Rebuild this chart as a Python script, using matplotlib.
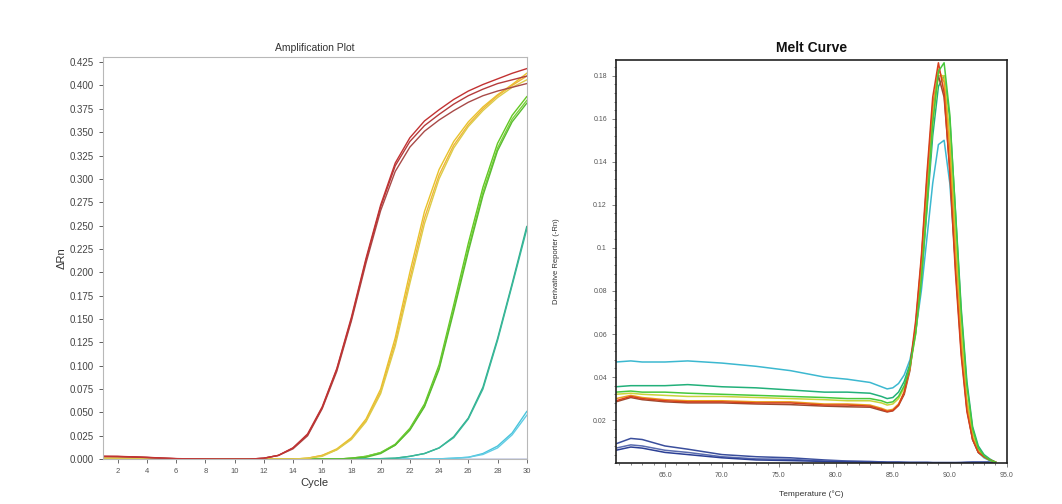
import matplotlib
matplotlib.use('Agg')
import matplotlib.pyplot as plt
from matplotlib.ticker import AutoMinorLocator, FormatStrFormatter, FixedLocator
import numpy as np

plt.rcParams['font.family'] = ['Liberation Sans', 'DejaVu Sans']

# ---------------- amplification data (delta Rn per cycle) ----------------
cycles = list(range(1, 31))

amp_red1 = [0.003, 0.003, 0.0025, 0.002, 0.0012, 0.0006, 0.0003, 0.0001, 0.0, 0.0,
            0.0, 0.001, 0.004, 0.012, 0.027, 0.056, 0.097, 0.152, 0.215, 0.272,
            0.317, 0.344, 0.362, 0.374, 0.385, 0.394, 0.401, 0.407, 0.413, 0.418]
amp_red2 = [0.003, 0.0028, 0.0024, 0.0018, 0.0011, 0.0005, 0.0002, 0.0001, 0.0, 0.0,
            0.0, 0.001, 0.004, 0.012, 0.026, 0.055, 0.096, 0.150, 0.213, 0.270,
            0.314, 0.340, 0.357, 0.369, 0.380, 0.389, 0.396, 0.402, 0.406, 0.410]
amp_red3 = [0.0028, 0.0027, 0.0023, 0.0017, 0.001, 0.0005, 0.0002, 0.0, 0.0, 0.0,
            0.0, 0.001, 0.004, 0.011, 0.025, 0.054, 0.094, 0.148, 0.210, 0.266,
            0.308, 0.334, 0.351, 0.363, 0.373, 0.382, 0.389, 0.394, 0.398, 0.402]

amp_yel1 = [0.001, 0.001, 0.001, 0.0008, 0.0006, 0.0004, 0.0002, 0.0001, 0.0, 0.0,
            0.0, 0.0, 0.0, 0.0, 0.001, 0.004, 0.011, 0.023, 0.043, 0.075,
            0.130, 0.200, 0.265, 0.310, 0.340, 0.361, 0.377, 0.390, 0.401, 0.413]
amp_yel2 = [0.001, 0.001, 0.0009, 0.0007, 0.0005, 0.0003, 0.0002, 0.0001, 0.0, 0.0,
            0.0, 0.0, 0.0, 0.0, 0.001, 0.004, 0.010, 0.022, 0.041, 0.072,
            0.125, 0.193, 0.258, 0.304, 0.336, 0.358, 0.375, 0.389, 0.400, 0.410]
amp_yel3 = [0.0008, 0.0008, 0.0008, 0.0006, 0.0005, 0.0003, 0.0001, 0.0, 0.0, 0.0,
            0.0, 0.0, 0.0, 0.0, 0.001, 0.003, 0.010, 0.021, 0.040, 0.070,
            0.121, 0.188, 0.252, 0.300, 0.333, 0.356, 0.373, 0.387, 0.398, 0.406]

amp_grn1 = [0.0005, 0.0005, 0.0005, 0.0004, 0.0004, 0.0003, 0.0002, 0.0001, 0.0, 0.0,
            0.0, 0.0, 0.0, 0.0, 0.0, 0.0, 0.0, 0.001, 0.003, 0.007,
            0.016, 0.033, 0.059, 0.101, 0.165, 0.231, 0.291, 0.338, 0.368, 0.388]
amp_grn2 = [0.0005, 0.0005, 0.0004, 0.0004, 0.0003, 0.0002, 0.0002, 0.0001, 0.0, 0.0,
            0.0, 0.0, 0.0, 0.0, 0.0, 0.0, 0.0, 0.001, 0.003, 0.007,
            0.015, 0.032, 0.057, 0.098, 0.161, 0.226, 0.286, 0.333, 0.364, 0.384]
amp_grn3 = [0.0004, 0.0004, 0.0004, 0.0003, 0.0003, 0.0002, 0.0001, 0.0, 0.0, 0.0,
            0.0, 0.0, 0.0, 0.0, 0.0, 0.0, 0.0, 0.001, 0.002, 0.006,
            0.015, 0.031, 0.056, 0.096, 0.158, 0.222, 0.282, 0.330, 0.361, 0.381]

amp_teal1 = [0.0004, 0.0004, 0.0004, 0.0003, 0.0003, 0.0002, 0.0002, 0.0001, 0.0001, 0.0,
             0.0, 0.0, 0.0, 0.0, 0.0, 0.0, 0.0, 0.0, 0.0, 0.0005,
             0.001, 0.003, 0.006, 0.012, 0.024, 0.044, 0.077, 0.129, 0.188, 0.249]
amp_teal2 = [0.0004, 0.0004, 0.0003, 0.0003, 0.0002, 0.0002, 0.0001, 0.0001, 0.0, 0.0,
             0.0, 0.0, 0.0, 0.0, 0.0, 0.0, 0.0, 0.0, 0.0, 0.0005,
             0.001, 0.003, 0.006, 0.012, 0.023, 0.043, 0.075, 0.127, 0.186, 0.246]

amp_cyan1 = [0.0003, 0.0003, 0.0003, 0.0002, 0.0002, 0.0002, 0.0001, 0.0001, 0.0, 0.0,
             0.0, 0.0, 0.0, 0.0, 0.0, 0.0, 0.0, 0.0, 0.0, 0.0,
             0.0, 0.0, 0.0, 0.0003, 0.001, 0.002, 0.006, 0.014, 0.028, 0.051]
amp_cyan2 = [0.0003, 0.0003, 0.0002, 0.0002, 0.0002, 0.0001, 0.0001, 0.0, 0.0, 0.0,
             0.0, 0.0, 0.0, 0.0, 0.0, 0.0, 0.0, 0.0, 0.0, 0.0,
             0.0, 0.0, 0.0, 0.0003, 0.001, 0.002, 0.005, 0.012, 0.026, 0.047]

amp_blue = [0.0] * 30

amp_series = [
    (amp_blue, '#2a3f9a'),
    (amp_cyan1, '#48c4dc'), (amp_cyan2, '#62cce4'),
    (amp_teal1, '#2fae8e'), (amp_teal2, '#3ab89a'),
    (amp_grn1, '#62c822'), (amp_grn2, '#7cd03c'), (amp_grn3, '#58bc30'),
    (amp_yel1, '#e8c32a'), (amp_yel2, '#f0b438'), (amp_yel3, '#dccc48'),
    (amp_red3, '#a84a48'), (amp_red2, '#b43c3c'), (amp_red1, '#c23232'),
]

# ---------------- melt curve data (derivative reporter) ----------------
temps = [60.7, 62, 63, 65, 67, 70, 73, 76, 79, 81, 83, 84, 84.5, 85, 85.5, 86,
         86.5, 87, 87.5, 88, 88.5, 89, 89.5, 90, 90.5, 91, 91.5, 92, 92.5, 93, 93.5, 94]

melt_red = [0.029, 0.031, 0.030, 0.029, 0.0285, 0.0285, 0.028, 0.028, 0.027, 0.027,
            0.0265, 0.025, 0.024, 0.0245, 0.027, 0.033, 0.045, 0.066, 0.096, 0.135,
            0.170, 0.186, 0.172, 0.135, 0.088, 0.050, 0.024, 0.011, 0.005, 0.003, 0.0015, 0.0005]
melt_red2 = [0.0285, 0.0305, 0.0295, 0.0285, 0.028, 0.028, 0.0275, 0.0272, 0.0265, 0.0262,
             0.026, 0.0245, 0.0238, 0.0243, 0.0268, 0.032, 0.043, 0.064, 0.094, 0.132,
             0.166, 0.180, 0.170, 0.137, 0.091, 0.052, 0.025, 0.011, 0.005, 0.003, 0.0015, 0.0005]
melt_orange = [0.030, 0.0315, 0.0305, 0.0295, 0.029, 0.029, 0.0285, 0.0285, 0.0275, 0.0275,
               0.027, 0.0255, 0.0245, 0.025, 0.0275, 0.033, 0.044, 0.063, 0.092, 0.130,
               0.165, 0.183, 0.177, 0.145, 0.098, 0.056, 0.027, 0.012, 0.0055, 0.003, 0.0015, 0.0005]
melt_yellow = [0.032, 0.0325, 0.032, 0.0315, 0.031, 0.031, 0.0305, 0.030, 0.0295, 0.029,
               0.029, 0.028, 0.027, 0.0275, 0.030, 0.035, 0.044, 0.060, 0.086, 0.122,
               0.158, 0.180, 0.180, 0.152, 0.106, 0.062, 0.030, 0.014, 0.006, 0.003, 0.0015, 0.0005]
melt_green = [0.033, 0.0335, 0.033, 0.033, 0.0325, 0.032, 0.0315, 0.031, 0.0305, 0.030,
              0.030, 0.029, 0.028, 0.0285, 0.031, 0.036, 0.045, 0.060, 0.085, 0.120,
              0.158, 0.182, 0.186, 0.162, 0.116, 0.070, 0.036, 0.016, 0.007, 0.0035, 0.0015, 0.0005]
melt_teal = [0.0355, 0.036, 0.036, 0.036, 0.0365, 0.0355, 0.035, 0.034, 0.033, 0.033,
             0.0325, 0.031, 0.030, 0.0305, 0.033, 0.038, 0.046, 0.061, 0.085, 0.118,
             0.152, 0.175, 0.180, 0.160, 0.117, 0.072, 0.038, 0.017, 0.008, 0.004, 0.002, 0.0005]
melt_cyan = [0.047, 0.0475, 0.047, 0.047, 0.0475, 0.0465, 0.045, 0.043, 0.040, 0.039,
             0.0375, 0.0355, 0.0345, 0.035, 0.037, 0.041, 0.048, 0.061, 0.080, 0.105,
             0.130, 0.148, 0.150, 0.130, 0.093, 0.055, 0.026, 0.011, 0.005, 0.0025, 0.0012, 0.0005]
melt_blue1 = [0.009, 0.0115, 0.011, 0.008, 0.0065, 0.004, 0.003, 0.0025, 0.0015, 0.001,
              0.0008, 0.0006, 0.0005, 0.0005, 0.0005, 0.0004, 0.0004, 0.0004, 0.0004, 0.0004,
              0.0003, 0.0003, 0.0003, 0.0003, 0.0003, 0.0003, 0.0004, 0.0005, 0.0005, 0.0005, 0.0005, 0.0005]
melt_blue2 = [0.007, 0.0085, 0.008, 0.006, 0.005, 0.003, 0.002, 0.0018, 0.001, 0.0008,
              0.0006, 0.0005, 0.0004, 0.0004, 0.0004, 0.0003, 0.0003, 0.0003, 0.0003, 0.0003,
              0.0002, 0.0002, 0.0002, 0.0002, 0.0002, 0.0003, 0.0003, 0.0004, 0.0004, 0.0004, 0.0004, 0.0004]
melt_blue3 = [0.006, 0.0075, 0.007, 0.005, 0.004, 0.0025, 0.0015, 0.0012, 0.0008, 0.0006,
              0.0005, 0.0004, 0.0003, 0.0003, 0.0003, 0.0003, 0.0002, 0.0002, 0.0002, 0.0002,
              0.0002, 0.0002, 0.0002, 0.0002, 0.0002, 0.0002, 0.0003, 0.0003, 0.0003, 0.0003, 0.0003, 0.0003]

melt_series = [
    (melt_blue1, '#3a4e9c'), (melt_blue2, '#5a6cb0'), (melt_blue3, '#2b3f95'),
    (melt_cyan, '#3cb8d0'),
    (melt_teal, '#22b07a'),
    (melt_yellow, '#c8d43a'),
    (melt_red2, '#9c4a30'),
    (melt_orange, '#e8a020'),
    (melt_red, '#d8401c'),
    (melt_green, '#48c83c'),
]

fig = plt.figure(figsize=(10.62, 5.04), dpi=100)

# ---------------- left: amplification plot ----------------
ax1 = fig.add_axes([0.097, 0.089, 0.399, 0.798])
for vals, col in amp_series:
    ax1.plot(cycles, vals, color=col, lw=1.0)
ax1.set_xlim(1, 30)
ax1.set_ylim(0, 0.4305)
ax1.set_xticks(range(2, 31, 2))
ax1.yaxis.set_major_locator(FixedLocator(np.arange(0, 0.426, 0.025)))
ax1.yaxis.set_major_formatter(FormatStrFormatter('%.3f'))
ax1.tick_params(axis='y', labelsize=7, colors='#444444', length=3, width=0.6)
ax1.tick_params(axis='x', labelsize=5.5, colors='#555555', length=3, width=0.6)
for s in ax1.spines.values():
    s.set_color('#b8b8b8')
    s.set_linewidth(0.8)
ax1.set_title('Amplification Plot', fontsize=7.5, color='#333333', pad=4)
ax1.set_xlabel('Cycle', fontsize=8, color='#333333', labelpad=2)
ax1.set_ylabel('ΔRn', fontsize=8, color='#333333', labelpad=2)

# ---------------- right: melt curve ----------------
ax2 = fig.add_axes([0.580, 0.081, 0.368, 0.800])
for vals, col in melt_series:
    ax2.plot(temps, vals, color=col, lw=1.1)
ax2.set_xlim(60.7, 95)
ax2.set_ylim(0, 0.1873)
ax2.set_xticks([65, 70, 75, 80, 85, 90, 95])
ax2.set_xticklabels(['65.0', '70.0', '75.0', '80.0', '85.0', '90.0', '95.0'])
ax2.set_yticks([0.02, 0.04, 0.06, 0.08, 0.1, 0.12, 0.14, 0.16, 0.18])
ax2.set_yticklabels(['0.02', '0.04', '0.06', '0.08', '0.1', '0.12', '0.14', '0.16', '0.18'])
ax2.xaxis.set_minor_locator(AutoMinorLocator(5))
ax2.yaxis.set_minor_locator(AutoMinorLocator(5))
ax2.tick_params(which='both', labelsize=5, colors='#555555', width=0.5)
ax2.tick_params(which='major', length=3)
ax2.tick_params(which='minor', length=1.5)
for s in ax2.spines.values():
    s.set_color('#222222')
    s.set_linewidth(1.2)
ax2.set_title('Melt Curve', fontsize=10, fontweight='bold', color='#111111', pad=6)
ax2.set_xlabel('Temperature (°C)', fontsize=6, color='#333333', labelpad=8)
ax2.set_ylabel('Derivative Reporter (-Rn)', fontsize=5.5, color='#333333', labelpad=24)

fig.savefig('out.png', dpi=100)
